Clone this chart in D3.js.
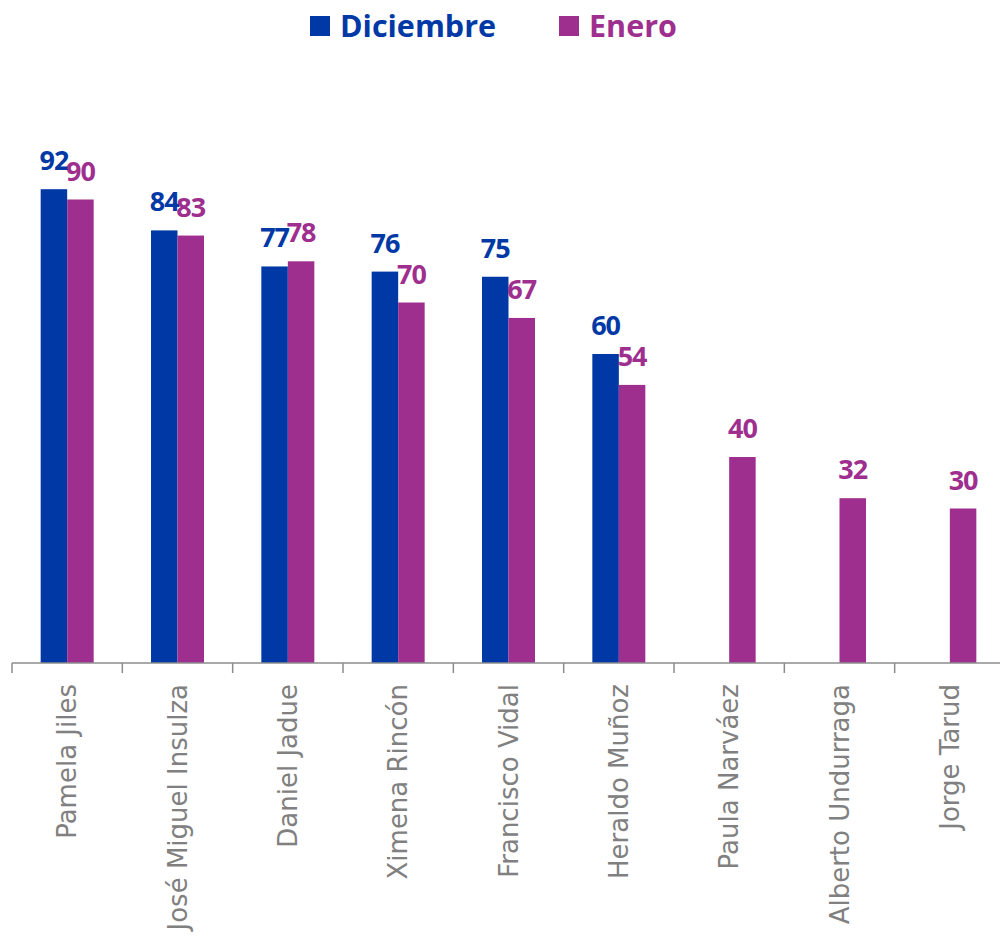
<!DOCTYPE html>
<html><head><meta charset="utf-8">
<script src="https://cdn.jsdelivr.net/npm/d3@7"></script>
<style>body{margin:0;background:#fff}svg{display:block}</style>
</head><body>
<svg id="c" width="1000" height="937"></svg>
<script>
const categories = ["Pamela Jiles","José Miguel Insulza","Daniel Jadue","Ximena Rincón","Francisco Vidal","Heraldo Muñoz","Paula Narváez","Alberto Undurraga","Jorge Tarud"];
const diciembre = [92,84,77,76,75,60,null,null,null];
const enero = [90,83,78,70,67,54,40,32,30];
const seriesNames = ["Diciembre","Enero"];
const colors = ["#0039A6","#9E2F8F"];

const svg = d3.select("#c");
const x = d3.scaleBand().domain(categories).range([12,1005]).paddingInner(0).paddingOuter(0);
const y = d3.scaleLinear().domain([0,100]).range([663,148]);
const bw = 26.5;
const series = [diciembre, enero];

series.forEach((vals, si) => {
  const g = svg.append("g");
  const data = categories.map((c,i)=>({c, v: vals[i]})).filter(d=>d.v!=null);
  g.selectAll("rect").data(data).join("rect")
    .attr("x", d => x(d.c) + x.bandwidth()/2 - bw + si*bw)
    .attr("y", d => y(d.v))
    .attr("width", bw)
    .attr("height", d => y(0)-y(d.v))
    .attr("fill", colors[si]);
  g.selectAll("text").data(data).join("text")
    .attr("x", d => x(d.c) + x.bandwidth()/2 - bw/2 + si*bw)
    .attr("y", d => y(d.v) - 19)
    .attr("text-anchor","middle")
    .attr("font-family","'Open Sans', Lato, sans-serif")
    .attr("font-weight","bold")
    .attr("font-size",27)
    .attr("letter-spacing",-1)
    .attr("fill", colors[si])
    .text(d => d.v);
});

// axis
const ax = svg.append("g").attr("transform","translate(0,663)");
ax.append("line").attr("x1",12).attr("x2",1005).attr("y1",0).attr("y2",0).attr("stroke","#8c8c8c").attr("stroke-width",1.5);
const ticks = categories.map(c=>x(c)).concat([x.range()[1]]);
ax.selectAll("line.t").data(ticks).join("line").attr("class","t")
  .attr("x1",d=>d).attr("x2",d=>d).attr("y1",0).attr("y2",10)
  .attr("stroke","#8c8c8c").attr("stroke-width",1.5);
ax.selectAll("text").data(categories).join("text")
  .attr("transform", d => `translate(${x(d)+x.bandwidth()/2+9},21) rotate(-90)`)
  .attr("text-anchor","end")
  .attr("font-family","'DejaVu Sans', sans-serif")
  .attr("font-size",26)
  .attr("fill","#808080")
  .text(d=>d);

// legend
const legX = [310, 559];
seriesNames.forEach((n,i)=>{
  svg.append("rect").attr("x",legX[i]).attr("y",16).attr("width",20).attr("height",20).attr("fill",colors[i]);
  svg.append("text").attr("x",legX[i]+30).attr("y",37)
    .attr("font-family","'Open Sans', Lato, sans-serif").attr("font-weight","bold").attr("font-size",30.5)
    .attr("fill",colors[i]).text(n);
});
</script>
</body></html>
